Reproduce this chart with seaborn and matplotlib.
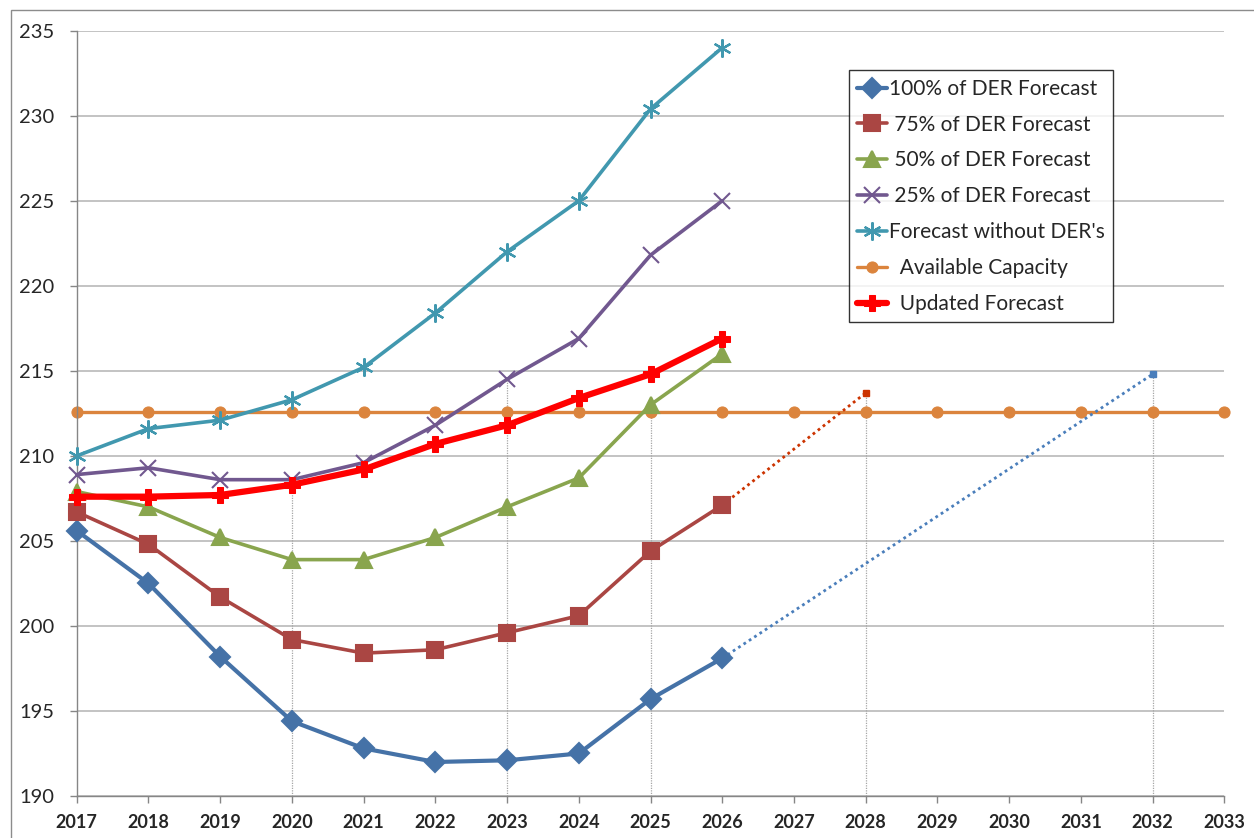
import matplotlib
matplotlib.use("Agg")
import matplotlib.pyplot as plt
import seaborn as sns
from matplotlib.patches import Rectangle

# ---- data ----
years = [2017, 2018, 2019, 2020, 2021, 2022, 2023, 2024, 2025, 2026]
der_100 = [205.6, 202.5, 198.2, 194.4, 192.8, 192.0, 192.1, 192.5, 195.7, 198.1]
der_75 = [206.7, 204.8, 201.7, 199.2, 198.4, 198.6, 199.6, 200.6, 204.4, 207.1]
der_50 = [207.9, 207.0, 205.2, 203.9, 203.9, 205.2, 207.0, 208.7, 213.0, 216.0]
der_25 = [208.9, 209.3, 208.6, 208.6, 209.6, 211.8, 214.5, 216.9, 221.8, 225.0]
no_der = [210.0, 211.6, 212.1, 213.3, 215.2, 218.4, 222.0, 225.0, 230.4, 234.0]
updated = [207.6, 207.6, 207.7, 208.3, 209.2, 210.7, 211.8, 213.4, 214.8, 216.9]

cap_years = list(range(2017, 2034))
capacity = [212.6] * len(cap_years)

# dotted trend extensions
ext_100_x = [2026, 2032]
ext_100_y = [198.1, 214.8]
ext_75_x = [2026, 2028]
ext_75_y = [207.1, 213.7]

# vertical drop lines where series reach capacity
drop_x = [2020, 2023, 2025, 2028, 2032]
drop_top = [208.3, 214.5, 213.0, 213.7, 214.8]

series = [
    ("100% of DER Forecast", der_100, "#4572A7", "D", 10, 3.0, 1.5),
    (" 75% of DER Forecast", der_75, "#AA4643", "s", 11, 2.6, 1.5),
    (" 50% of DER Forecast", der_50, "#89A54E", "^", 11, 2.6, 1.5),
    (" 25% of DER Forecast", der_25, "#71588F", "x", 11, 2.6, 1.5),
    ("Forecast without DER's", no_der, "#4198AF", (6, 2, 0), 13, 2.6, 1.6),
]

sns.set_style("white")
plt.rcParams["font.family"] = ["Lato", "DejaVu Sans"]

fig = plt.figure(figsize=(12.54, 8.38), dpi=100)
ax = fig.add_axes([0.0612, 0.0501, 0.9151, 0.9133])

# outer chart border (runs off the right/bottom edge)
fig.patches.append(Rectangle((11 / 1254, -0.05), 1.2, 1 - 10 / 838 + 0.05,
                             transform=fig.transFigure, fill=False,
                             edgecolor="#8C8C8C", lw=1.0, zorder=0))

ax.vlines(drop_x, 190, drop_top, colors="#A6A6A6", linestyles=(0, (1, 1)),
          lw=0.9, zorder=1)

for label, vals, color, marker, ms, lw, mew in series:
    sns.lineplot(x=years, y=vals, ax=ax, color=color, marker=marker,
                 markersize=ms, linewidth=lw, markeredgecolor=color,
                 markeredgewidth=mew, label=label, zorder=3, clip_on=False)

sns.lineplot(x=cap_years, y=capacity, ax=ax, color="#DB843D", marker="o",
             markersize=8, linewidth=2.4, markeredgecolor="#DB843D",
             label="  Available Capacity", zorder=2, clip_on=False)
sns.lineplot(x=years, y=updated, ax=ax, color="#FF0000", marker="P",
             markersize=12, linewidth=4.5, markeredgecolor="#FF0000",
             label="  Updated Forecast", zorder=4, clip_on=False)

ax.plot(ext_100_x, ext_100_y, color="#4A7EBB", lw=2.0, ls=(0, (1, 1.3)),
        marker="s", markersize=5, markevery=[1], zorder=2)
ax.plot(ext_75_x, ext_75_y, color="#CC3300", lw=2.0, ls=(0, (1, 1.3)),
        marker="s", markersize=5, markevery=[1], zorder=2)

ax.set_xlim(2017, 2033)
ax.set_ylim(190, 235)
ax.set_xticks(range(2017, 2034))
ax.set_yticks(range(190, 236, 5))
ax.set_xticklabels([str(y) for y in range(2017, 2034)], fontsize=13,
                   fontweight="bold")
ax.set_yticklabels([str(v) for v in range(190, 236, 5)], fontsize=14.5)
ax.set_xlabel("")
ax.set_ylabel("")

ax.grid(axis="y", color="#BEBEBE", lw=1.3)
ax.grid(axis="x", visible=False)
for s in ["top", "right"]:
    ax.spines[s].set_visible(False)
for s in ["left", "bottom"]:
    ax.spines[s].set_color("#868686")
    ax.spines[s].set_linewidth(1.0)
ax.tick_params(axis="both", which="major", length=5, width=1,
               color="#868686", direction="out", left=True, bottom=True)
ax.tick_params(axis="y", pad=11)
ax.tick_params(axis="x", pad=8)

leg = ax.legend(loc="upper left", bbox_to_anchor=(0.673, 0.948),
                fontsize=15, frameon=True, fancybox=False, handlelength=1.4,
                handletextpad=0.1, labelspacing=0.76, borderpad=0.4,
                borderaxespad=0)
leg.get_frame().set_edgecolor("black")
leg.get_frame().set_linewidth(1.0)

fig.savefig("out.png", dpi=100)
